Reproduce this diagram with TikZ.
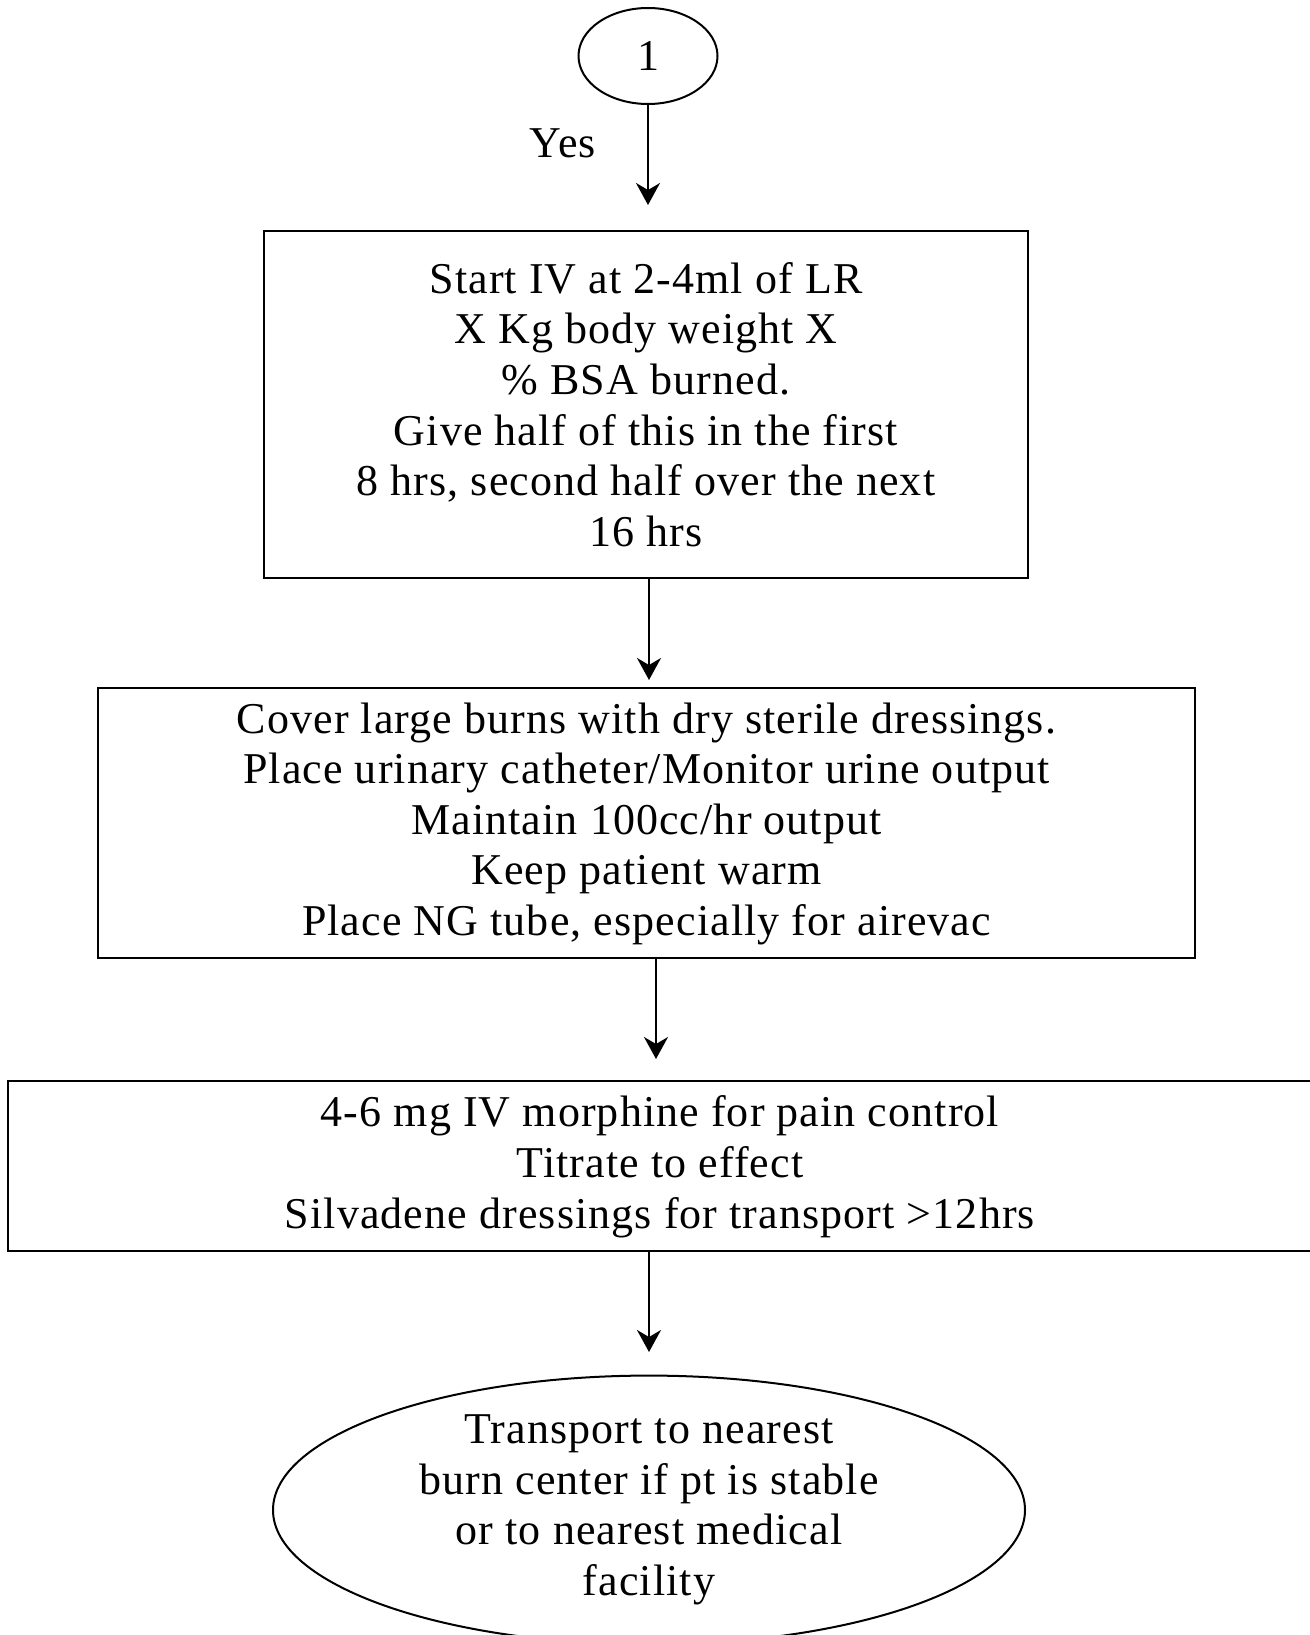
\documentclass[tikz,border=0pt]{standalone}
\usepackage{fontspec}
\setmainfont{Liberation Serif}[LetterSpace=2.5]
\usetikzlibrary{
	arrows.meta,
	shapes.geometric
}

\begin{document}
\begin{tikzpicture}[x=1pt, y=-1pt, line width=2pt,
		font=\fontsize{44}{50.6}\selectfont,
		stepbox/.style={draw, rectangle, align=center, inner sep=0pt},
		oval/.style={draw, ellipse, align=center, inner sep=0pt},
		flow/.style={-{Stealth[length=22pt, width=24pt, inset=7pt]}}]
	\useasboundingbox (0,0) rectangle (1309,1635);
	% start connector and boxes
	\node[oval, minimum width=139pt, minimum height=96pt] (one) at (648,56) {1};
	\node (yes) at (563,143) {Yes};
	\node[stepbox, minimum width=764pt, minimum height=347pt] (iv) at (646,404.5)
		{Start IV at 2-4ml of LR\\X Kg body weight X\\\% BSA burned.\\Give half of this in the first\\8 hrs, second half over the next\\16 hrs};
	\node[stepbox, minimum width=1097pt, minimum height=270pt, text depth=8pt] (care) at (646.5,823)
		{Cover large burns with dry sterile dressings.\\Place urinary catheter/Monitor urine output\\Maintain 100cc/hr output\\Keep patient warm\\Place NG tube, especially for airevac\ };
	\node[stepbox, minimum width=1304pt, minimum height=170pt, text depth=8pt] (pain) at (660,1166)
		{4-6 mg IV morphine for pain control\\Titrate to effect\\Silvadene dressings for transport >12hrs};
	\node[oval, minimum width=752pt, minimum height=250pt] (transport) at (649,1510)
		{Transport to nearest\\burn center if pt is stable\\or to nearest medical\\facility};
	% arrow tips stop short of the boxes
	\coordinate (t1) at (648,205);
	\coordinate (t2) at (649,680);
	\coordinate (t3) at (656,1059);
	\coordinate (t4) at (649,1352);
	\draw[flow] (one.south) -- (t1);
	\draw[flow] (iv.south -| t2) -- (t2);
	\draw[flow] (care.south -| t3) -- (t3);
	\draw[flow] (pain.south -| t4) -- (t4);
\end{tikzpicture}
\end{document}
